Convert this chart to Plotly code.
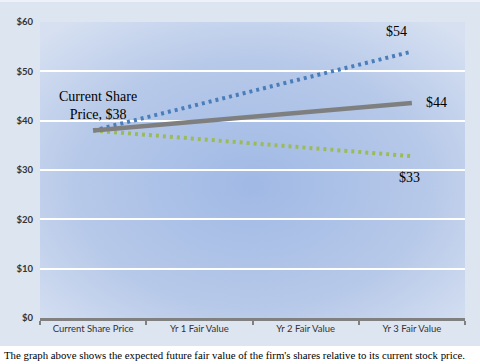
import base64
import plotly.graph_objects as go

categories = ["Current Share Price", "Yr 1 Fair Value", "Yr 2 Fair Value", "Yr 3 Fair Value"]
high_case = [38, 43.3, 48.7, 54.0]
base_case = [38, 39.9, 41.7, 43.6]
low_case = [38, 36.3, 34.5, 32.8]
y_ticks = [0, 10, 20, 30, 40, 50, 60]
y_tick_labels = ["$0", "$10", "$20", "$30", "$40", "$50", "$60"]

W, H = 480, 364
L, R, T, B = 40, 15, 22, 46
PW, PH = W - L - R, H - T - B
CHART_BOTTOM = 346

svg = f'''<svg xmlns="http://www.w3.org/2000/svg" width="{W}" height="{CHART_BOTTOM}" viewBox="0 0 {W} {CHART_BOTTOM}" preserveAspectRatio="none">
<defs>
<radialGradient id="g" cx="50%" cy="55%" r="70%" fx="50%" fy="55%">
<stop offset="0" stop-color="#a0b9e5"/>
<stop offset="0.6" stop-color="#b7c9e9"/>
<stop offset="1" stop-color="#d6e0f1"/>
</radialGradient>
</defs>
<rect x="0" y="0" width="{W}" height="{CHART_BOTTOM}" fill="#dde5f1"/>
<rect x="0" y="0" width="{W}" height="2" fill="#eef2f8"/>
<rect x="{L}" y="{T}" width="{PW}" height="{PH}" fill="url(#g)"/>
</svg>'''
img_src = "data:image/svg+xml;base64," + base64.b64encode(svg.encode()).decode()

fig = go.Figure()
fig.add_trace(go.Scatter(x=categories, y=high_case, mode="lines",
                         line=dict(color="#4a7ebb", width=4, dash="3px,4px"),
                         hoverinfo="skip", showlegend=False))
fig.add_trace(go.Scatter(x=categories, y=low_case, mode="lines",
                         line=dict(color="#9bbb59", width=4, dash="3px,4px"),
                         hoverinfo="skip", showlegend=False))
fig.add_trace(go.Scatter(x=categories, y=base_case, mode="lines",
                         line=dict(color="#7f7f7f", width=4.5),
                         hoverinfo="skip", showlegend=False))

fig.add_layout_image(dict(source=img_src, xref="paper", yref="paper",
                          x=-L / PW, y=1 + T / PH, sizex=W / PW, sizey=CHART_BOTTOM / PH,
                          xanchor="left", yanchor="top", sizing="stretch", layer="below"))

serif = "Liberation Serif, Times New Roman, serif"
fig.add_annotation(x=categories[0], y=base_case[0], text="Current Share<br>Price, $38",
                   showarrow=False, xshift=5, yshift=7, yanchor="bottom",
                   font=dict(family=serif, size=14, color="#000000"))
fig.add_annotation(x=categories[3], y=high_case[3], text="$54", showarrow=False,
                   xshift=-15, yshift=11, yanchor="bottom",
                   font=dict(family=serif, size=14, color="#000000"))
fig.add_annotation(x=categories[3], y=base_case[3], text="$44", showarrow=False,
                   xshift=12, xanchor="left",
                   font=dict(family=serif, size=14, color="#000000"))
fig.add_annotation(x=categories[3], y=low_case[3], text="$33", showarrow=False,
                   xshift=-2, yshift=-12, yanchor="top",
                   font=dict(family=serif, size=14, color="#000000"))
fig.add_annotation(xref="paper", yref="paper", x=-(L - 2) / PW, y=-(355 - (H - B)) / PH,
                   xanchor="left", yanchor="middle", showarrow=False,
                   text="The graph above shows the expected future fair value of the firm's shares relative to its current stock price.",
                   font=dict(family=serif, size=10.8, color="#000000"))

fig.update_xaxes(type="category", tickson="boundaries", ticks="outside", ticklen=4,
                 tickwidth=1.5, tickcolor="#808080", showline=True, linecolor="#808080",
                 linewidth=2.5, showgrid=False, zeroline=False, range=[-0.5, 3.5],
                 tickfont=dict(family="Lato, Open Sans, sans-serif", size=9.5, color="#333333"))
fig.update_yaxes(range=[0, 60], tickvals=y_ticks, ticktext=y_tick_labels, showgrid=True,
                 gridcolor="#ffffff", gridwidth=2, zeroline=False, showline=False,
                 ticklabelstandoff=6,
                 tickfont=dict(family="Lato, Open Sans, sans-serif", size=9.5, color="#333333",
                               weight="bold"))

fig.update_layout(width=W, height=H, margin=dict(l=L, r=R, t=T, b=B),
                  paper_bgcolor="#ffffff", plot_bgcolor="rgba(0,0,0,0)", showlegend=False)

fig.write_html("out.html", config={"displayModeBar": False},
               post_script="document.body.style.margin='0';document.body.style.overflow='hidden';")
